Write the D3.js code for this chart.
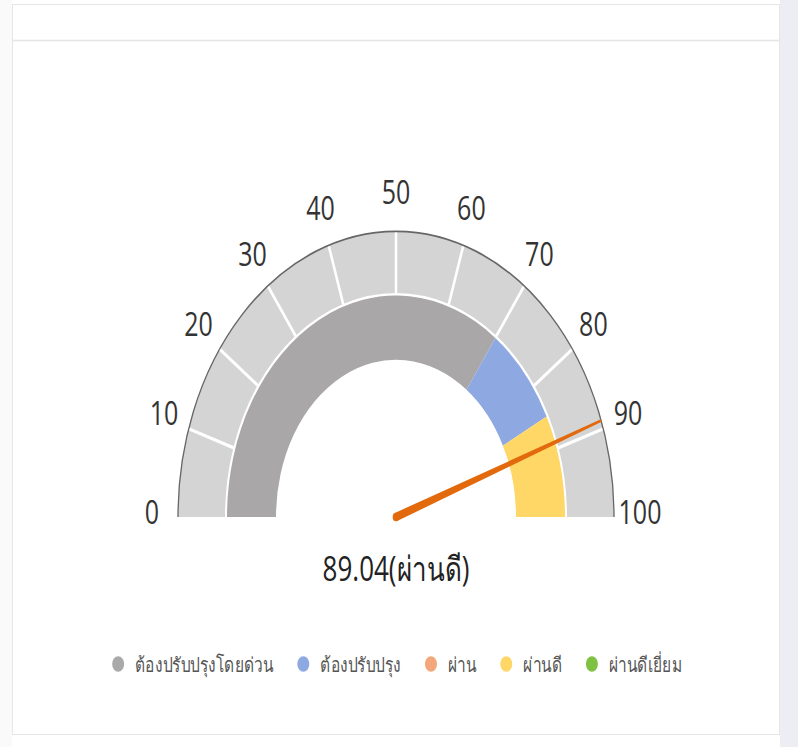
<!DOCTYPE html>
<html>
<head>
<meta charset="utf-8">
<script src="https://cdn.jsdelivr.net/npm/d3@7"></script>
<style>
  body { margin: 0; background: #fff; }
  text { font-family: "Open Sans", "Noto Sans", sans-serif; }
</style>
</head>
<body>
<div id="chart"></div>
<script>
// gauge data
var gaugeValue = 89.04;
var gaugeLabel = "ผ่านดี";
var tickValues = [0, 10, 20, 30, 40, 50, 60, 70, 80, 90, 100];
var bandStarts = [0, 70, 85];
var bandEnds = [70, 85, 100];
var bandColors = ["#a9a7a8", "#8ea8e2", "#fed766"];
var legendNames = ["ต้องปรับปรุงโดยด่วน", "ต้องปรับปรุง", "ผ่าน", "ผ่านดี", "ผ่านดีเยี่ยม"];
var legendColors = ["#a9a9a9", "#8ea8e2", "#f3a77b", "#fed766", "#7fc241"];

var width = 798, height = 747;
var cx = 396, cy = 517, ky = 1.31;
var rOuter = 218, rMid = 170, rInner = 120, rLabel = 244;

var svg = d3.select("#chart").append("svg")
    .attr("width", width)
    .attr("height", height);

// card frame
svg.append("rect").attr("x", 780).attr("y", 0).attr("width", 18).attr("height", height).attr("fill", "#eceef4");
svg.append("rect").attr("x", 0).attr("y", 0).attr("width", 12).attr("height", height).attr("fill", "#fafafb");
svg.append("rect")
    .attr("x", 12.5).attr("y", 4.5).attr("width", 767).attr("height", 730)
    .attr("fill", "#fff").attr("stroke", "#e6e6ea");
svg.append("line")
    .attr("x1", 12).attr("x2", 780).attr("y1", 40.5).attr("y2", 40.5)
    .attr("stroke", "#e4e4e8").attr("stroke-width", 1.5);

var angle = d3.scaleLinear().domain([0, 100]).range([-Math.PI / 2, Math.PI / 2]);

var g = svg.append("g")
    .attr("transform", "translate(" + cx + "," + cy + ") scale(1," + ky + ")");

var arc = d3.arc();

// outer light band, split by ticks
var segs = d3.pairs(tickValues);
g.selectAll(".seg")
  .data(segs)
  .enter().append("path")
    .attr("class", "seg")
    .attr("d", function(d) {
      return arc({innerRadius: rMid + 1, outerRadius: rOuter, startAngle: angle(d[0]), endAngle: angle(d[1])});
    })
    .attr("fill", "#d4d4d4");

// white separators between the segments
g.selectAll(".sep")
  .data(tickValues.slice(1, -1))
  .enter().append("line")
    .attr("x1", function(d) { return rMid * Math.sin(angle(d)); })
    .attr("y1", function(d) { return -rMid * Math.cos(angle(d)); })
    .attr("x2", function(d) { return rOuter * Math.sin(angle(d)); })
    .attr("y2", function(d) { return -rOuter * Math.cos(angle(d)); })
    .attr("stroke", "#fff")
    .attr("stroke-width", 2.5);

// outer edge
g.append("path")
    .attr("d", d3.arc()({innerRadius: rOuter, outerRadius: rOuter, startAngle: angle(0), endAngle: angle(100)}))
    .attr("fill", "none")
    .attr("stroke", "#666")
    .attr("stroke-width", 1.3);

// inner colored bands
g.selectAll(".band")
  .data(bandStarts)
  .enter().append("path")
    .attr("class", "band")
    .attr("d", function(d, i) {
      return arc({innerRadius: rInner, outerRadius: rMid - 1, startAngle: angle(d), endAngle: angle(bandEnds[i])});
    })
    .attr("fill", function(d, i) { return bandColors[i]; });

// tick labels
g.selectAll(".tick")
  .data(tickValues)
  .enter().append("text")
    .attr("x", function(d) { return rLabel * Math.sin(angle(d)); })
    .attr("y", function(d) { return -rLabel * Math.cos(angle(d)) - 4; })
    .attr("text-anchor", "middle")
    .attr("dominant-baseline", "central")
    .attr("font-size", 25)
    .attr("fill", "#333")
    .text(function(d) { return d; });

// needle
var a = angle(gaugeValue);
var tipX = rOuter * Math.sin(a), tipY = -rOuter * Math.cos(a);
var nx = Math.cos(a), ny = Math.sin(a);
var wBase = 3.3, wTip = 1;
g.append("path")
    .attr("d", "M" + (nx * wBase) + "," + (ny * wBase) +
               "L" + (tipX + nx * wTip) + "," + (tipY + ny * wTip) +
               "L" + (tipX - nx * wTip) + "," + (tipY - ny * wTip) +
               "L" + (-nx * wBase) + "," + (-ny * wBase) + "Z")
    .attr("fill", "#e2690c");
g.append("circle").attr("r", wBase).attr("fill", "#e2690c");

// value label
g.append("text")
    .attr("x", 0)
    .attr("y", (568 - cy) / ky)
    .attr("text-anchor", "middle")
    .attr("dominant-baseline", "central")
    .attr("font-size", 26)
    .attr("fill", "#222")
    .text(gaugeValue.toFixed(2) + "(" + gaugeLabel + ")");

// legend
var legY = 664;
var leg = svg.append("g").attr("transform", "translate(0," + legY + ") scale(1," + ky + ")");
var items = leg.selectAll(".leg")
  .data(legendNames)
  .enter().append("g").attr("class", "leg");
items.append("circle")
    .attr("r", 6)
    .attr("fill", function(d, i) { return legendColors[i]; });
items.append("text")
    .attr("x", 17)
    .attr("dominant-baseline", "central")
    .attr("font-size", 15.5)
    .attr("fill", "#555")
    .text(function(d) { return d; });

var gap = 30, x = 0, pos = [];
items.each(function() {
  pos.push(x);
  x += 17 + d3.select(this).select("text").node().getComputedTextLength() + gap;
});
var total = x - gap + 6;
var x0 = 397 - total / 2 + 6;
items.attr("transform", function(d, i) { return "translate(" + (x0 + pos[i]) + ",0)"; });
</script>
</body>
</html>
